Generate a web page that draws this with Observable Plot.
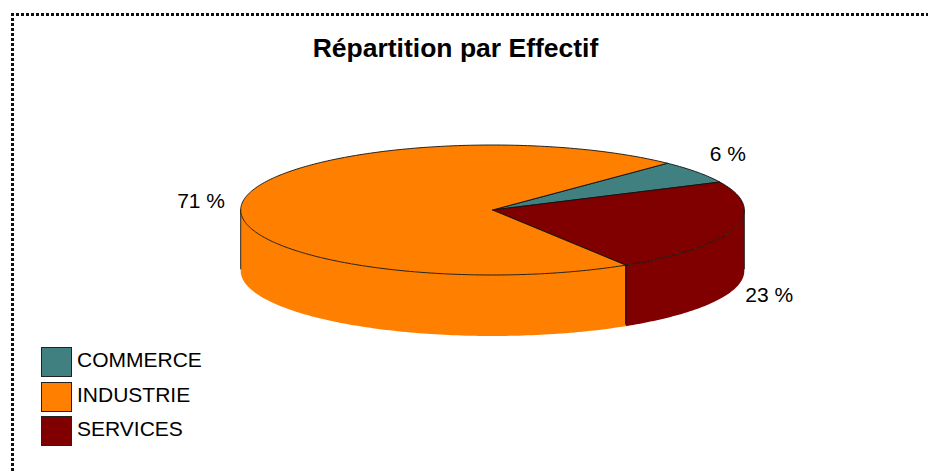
<!DOCTYPE html>
<html lang="fr">
<head>
<meta charset="utf-8">
<script src="https://cdn.jsdelivr.net/npm/d3@7"></script>
<script src="https://cdn.jsdelivr.net/npm/@observablehq/plot@0.6"></script>
<style>
  html, body { margin: 0; padding: 0; background: #fff; overflow: hidden; }
  #page { position: relative; width: 928px; height: 471px; font-family: "Liberation Sans", Arial, sans-serif; color: #000; }
  #page svg { display: block; position: absolute; left: 0; top: 0; }
  .dots-h { position: absolute; left: 11px; top: 13px; width: 917px; height: 3px;
    background: repeating-linear-gradient(90deg, #111 0 3px, transparent 3px 5px); }
  .dots-v { position: absolute; left: 11px; top: 13px; width: 3px; height: 458px;
    background: repeating-linear-gradient(180deg, #111 0 3px, transparent 3px 5px); }
  h1 { position: absolute; left: 0; top: 33px; width: 911px; margin: 0; text-align: center;
    font-size: 26.5px; line-height: 30px; font-weight: bold; }
  .swatch { position: absolute; left: 41px; width: 29px; height: 28px; border: 1px solid #222; }
  .key { position: absolute; left: 77px; font-size: 21px; line-height: 30px; white-space: nowrap; }
</style>
</head>
<body>
<div id="page"></div>
<script>
const categories = ["COMMERCE", "INDUSTRIE", "SERVICES"];
const shares = [5.7, 71.1, 23.2];
const colors = ["#408080", "#ff8000", "#800000"];
const chartTitle = "Répartition par Effectif";

// Clockwise order of the slices around the pie, and where the first one starts
const clockwise = ["COMMERCE", "SERVICES", "INDUSTRIE"];
const startAngle = 44;
const depth = 61 / 65;            // wall height, in ellipse half-heights
const labelOffsets = {            // pixel offsets of the labels from the rim
  COMMERCE: [31, -18],
  INDUSTRIE: [-41, -2],
  SERVICES: [35, 67]
};

const rad = (deg) => (deg * Math.PI) / 180;
const px = (deg) => Math.sin(rad(deg));
const py = (deg) => Math.cos(rad(deg));

let cursor = startAngle;
const slices = clockwise.map((name) => {
  const share = shares[categories.indexOf(name)];
  const a0 = cursor;
  const a1 = cursor + (share / 100) * 360;
  cursor = a1;
  return { name, share, a0, a1, mid: (a0 + a1) / 2 };
});

const arcAngles = (a0, a1) => {
  const n = Math.max(2, Math.ceil(Math.abs(a1 - a0)));
  return d3.range(n + 1).map((i) => a0 + ((a1 - a0) * i) / n);
};

// Top faces: centre -> arc -> centre
const tops = slices.flatMap((s) => [
  { name: s.name, x: 0, y: 0 },
  ...arcAngles(s.a0, s.a1).map((a) => ({ name: s.name, x: px(a), y: py(a) })),
  { name: s.name, x: 0, y: 0 }
]);

// Front wall: the part of each slice on the lower half of the ellipse (90..270 deg)
const walls = slices.flatMap((s) => {
  const lo = Math.max(s.a0, 90);
  const hi = Math.min(s.a1, 270);
  if (hi <= lo) return [];
  const arc = arcAngles(lo, hi);
  return [
    ...arc.map((a) => ({ name: s.name, x: px(a), y: py(a) })),
    ...arc.slice().reverse().map((a) => ({ name: s.name, x: px(a), y: py(a) - depth }))
  ];
});

// Vertical edges of the wall: its two ends and the slice boundaries on it
const edges = [90, 270, ...slices.flatMap((s) => [s.a0, s.a1]).filter((a) => a > 90 && a < 270)];

const chart = Plot.plot({
  width: 928,
  height: 471,
  margin: 0,
  x: { domain: [-1, 1], range: [240.2, 743.8], axis: null },
  y: { domain: [-1, 1], range: [274.5, 144.5], axis: null },
  color: { domain: categories, range: colors },
  style: { background: "transparent", fontFamily: "'Liberation Sans', Arial, sans-serif", color: "#000" },
  marks: [
    Plot.line(walls, { x: "x", y: "y", z: "name", fill: "name", stroke: "none", curve: "linear" }),
    Plot.ruleX(edges, {
      x: (a) => px(a),
      y1: (a) => py(a),
      y2: (a) => py(a) - depth * 0.98,
      stroke: "#111",
      strokeWidth: 0.9
    }),
    Plot.line(tops, {
      x: "x", y: "y", z: "name", fill: "name",
      stroke: "#111", strokeWidth: 0.9, curve: "linear", strokeLinejoin: "round"
    }),
    ...slices.map((s) =>
      Plot.text([s], {
        x: (d) => px(d.mid),
        y: (d) => py(d.mid),
        text: (d) => `${Math.round(d.share)} %`,
        dx: labelOffsets[s.name][0],
        dy: labelOffsets[s.name][1],
        fontSize: 21,
        fill: "#000",
        textAnchor: "middle"
      })
    )
  ]
});

const page = document.getElementById("page");
page.appendChild(chart);

const add = (cls, tag = "div") => {
  const el = document.createElement(tag);
  el.className = cls;
  page.appendChild(el);
  return el;
};
add("dots-h");
add("dots-v");
add("", "h1").textContent = chartTitle;
categories.forEach((name, i) => {
  const top = 347 + i * 34.5;
  const sw = add("swatch");
  sw.style.top = top + "px";
  sw.style.background = colors[i];
  const key = add("key");
  key.style.top = top - 2 + "px";
  key.textContent = name;
});
</script>
</body>
</html>
